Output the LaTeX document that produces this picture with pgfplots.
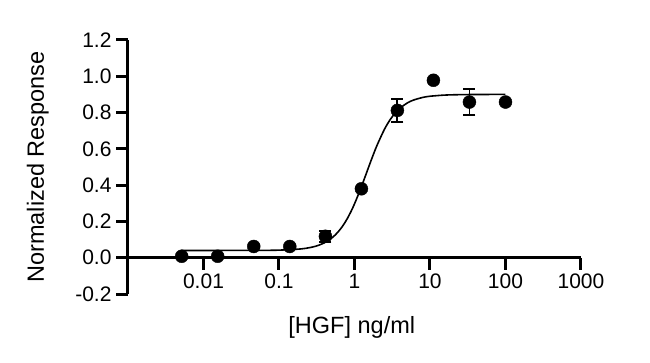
\documentclass[border=0pt]{standalone}
\usepackage{pgfplots}
\pgfplotsset{compat=1.18}
\usepackage{fontspec}
\setmainfont{Liberation Sans}
\begin{document}
\begin{tikzpicture}
\begin{axis}[
  at={(128pt,68pt)}, anchor=south west,
  scale only axis, width=453pt, height=254pt,
  xmode=log, log basis x=10,
  xmin=0.001, xmax=1000, ymin=-0.2, ymax=1.2,
  axis y line*=left, axis x line*=middle,
  axis line style={line width=3pt},
  every tick/.style={line width=3pt, black},
  major tick length=12pt,
  tick align=outside,
  xtick={0.01,0.1,1,10,100,1000},
  xticklabels={0.01,0.1,1,10,100,1000},
  minor xtick={},
  ytick={-0.2,0,0.2,0.4,0.6,0.8,1.0,1.2},
  yticklabels={-0.2,0.0,0.2,0.4,0.6,0.8,1.0,1.2},
  every tick label/.append style={font=\fontsize{21}{25}\selectfont},
  every axis label/.append style={font=\fontsize{23.5}{28}\selectfont},
  xticklabel style={yshift=-1pt},
  yticklabel style={xshift=-1pt},
  xlabel={[HGF] ng/ml},
  ylabel={Normalized Response},
  xlabel style={at={(axis description cs:0.494,-0.130)}, anchor=center},
  ylabel style={at={(axis description cs:-0.199,0.5)}, anchor=center, rotate=0},
  clip=false,
]
\addplot[black, line width=1.6pt, smooth] coordinates {
(0.005,0.0400) (0.01,0.0400) (0.02,0.0401) (0.05,0.0404) (0.1,0.0418)
(0.2,0.0489) (0.3,0.0623) (0.4,0.0823) (0.5,0.1084) (0.6,0.1399)
(0.7,0.1757) (0.8,0.2145) (0.9,0.2553) (1.0,0.2966) (1.2,0.3779)
(1.4,0.4527) (1.6,0.5185) (1.8,0.5748) (2.0,0.6221) (2.5,0.7089)
(3.0,0.7640) (3.5,0.7999) (4,0.8240) (5,0.8529) (6,0.8684)
(8,0.8834) (10,0.8900) (15,0.8960) (20,0.8979) (30,0.8992)
(50,0.8998) (100,0.9000)
};
\addplot[black, only marks, mark=*, mark size=6.5pt,
  error bars/.cd, y dir=both, y explicit,
  error bar style={line width=1.8pt},
  error mark options={rotate=90, mark size=6pt, line width=1.8pt}]
coordinates {
(0.00514,0.008) +- (0,0)
(0.0154,0.008) +- (0,0)
(0.0463,0.062) +- (0,0)
(0.139,0.062) +- (0,0)
(0.412,0.118) +- (0,0.03)
(1.235,0.38) +- (0,0)
(3.70,0.812) +- (0,0.065)
(11.1,0.978) +- (0,0)
(33.3,0.858) +- (0,0.07)
(100,0.858) +- (0,0)
};
\end{axis}
\pgfresetboundingbox
\path[use as bounding box] (0,0) rectangle (650pt,362pt);
\end{tikzpicture}
\end{document}
